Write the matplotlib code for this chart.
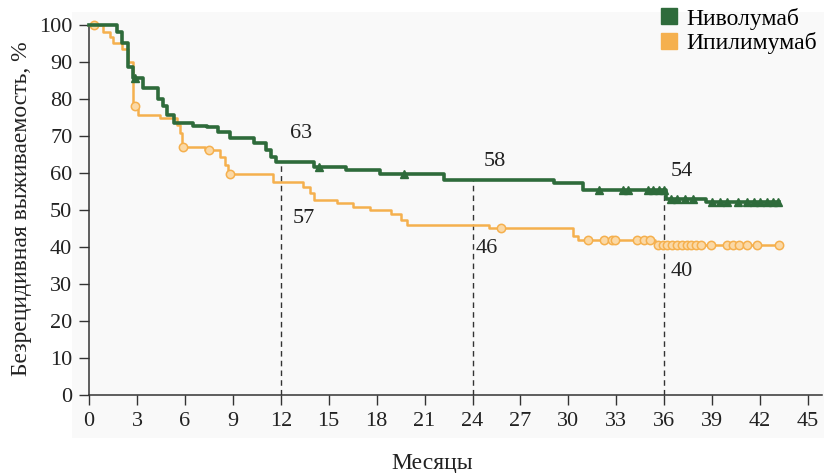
import numpy as np
import matplotlib
matplotlib.use("Agg")
import matplotlib.pyplot as plt
from matplotlib.lines import Line2D
from matplotlib.patches import Rectangle

# ---- data ----
nivo_t = [0, 1.75, 2.05, 2.45, 2.75, 3.4, 4.3, 4.6, 4.9, 5.3, 5.7, 6.5, 7.4, 8.1, 8.8,
          10.3, 11.1, 11.4, 11.7, 14.1, 16.1, 18.2, 22.2, 29.1, 30.9, 36.1, 38.6, 43.2]
nivo_v = [100, 98, 95, 88.6, 85.7, 83, 80, 78, 75.7, 73.5, 73.5, 72.7, 72.5, 71, 69.4,
          68, 66.2, 64.4, 63, 61.7, 60.8, 59.6, 58.1, 57.2, 55.4, 53, 52.2, 52.2]
nivo_cens = [2.9, 14.4, 19.7, 31.9, 33.4, 33.7, 35.0, 35.3, 35.7, 36.0, 36.4, 36.8,
             37.3, 37.8, 39.0, 39.5, 39.9, 40.6, 41.2, 41.6, 42.0, 42.4, 42.8, 43.1]

ipi_t = [0, 0.9, 1.3, 1.5, 2.05, 2.45, 2.75, 3.05, 4.45, 5.5, 5.7, 5.8, 7.25, 8.2, 8.5,
         8.7, 11.5, 13.4, 13.8, 14.1, 15.5, 16.5, 17.6, 18.9, 19.5, 19.9, 25.0, 30.3,
         30.6, 35.4, 43.3]
ipi_v = [100, 98, 96.8, 95, 93.5, 90, 78, 75.7, 74.8, 73, 70.7, 67, 66.2, 64.4, 62.2,
         59.8, 57.6, 56.2, 54.5, 52.7, 51.8, 50.9, 50, 48.8, 47.3, 46, 45, 43, 42,
         40.5, 40.5]
ipi_cens = [0.3, 2.9, 5.9, 7.5, 8.8, 25.8, 31.2, 32.2, 32.7, 32.9, 34.3, 34.7, 35.1,
            35.6, 35.9, 36.2, 36.5, 36.8, 37.1, 37.4, 37.7, 38.0, 38.3, 38.9, 39.9,
            40.3, 40.7, 41.2, 41.8, 43.2]

landmarks = [12, 24, 36]
nivo_labels = ["63", "58", "54"]
ipi_labels = ["57", "46", "40"]
nivo_label_pos = [(13.3, 70.8), (25.4, 63.0), (37.1, 60.3)]
ipi_label_pos = [(13.45, 47.8), (24.9, 39.7), (37.1, 33.5)]

xticks = list(range(0, 46, 3))
yticks = list(range(0, 101, 10))
series_names = ["Ниволумаб", "Ипилимумаб"]

GREEN = "#2e6b3b"
ORANGE = "#f5b04e"


def step_val(ts, vs, x):
    i = np.searchsorted(ts, x, side="right") - 1
    return np.asarray(vs)[np.clip(i, 0, len(vs) - 1)]


plt.rcParams["font.family"] = ["Liberation Serif", "DejaVu Serif"]
FS = 16
FS_LAB = 17

W, H = 824, 473
fig = plt.figure(figsize=(W / 100, H / 100), dpi=100)
fig.patch.set_facecolor("white")
fig.patches.append(Rectangle((72 / W, 1 - 438 / H), (W - 72) / W, (438 - 12) / H,
                             transform=fig.transFigure, facecolor="#f9f9f9",
                             edgecolor="none", zorder=-10))

ax = fig.add_axes([89 / W, 1 - 395 / H, (822 - 89) / W, (395 - 25) / H])
ax.set_zorder(1)
ax.set_facecolor("none")
ax.set_xlim(0, (822 - 89) / 15.98)
ax.set_ylim(0, 100)

# dashed landmark lines
for t in landmarks:
    top = step_val(nivo_t, nivo_v, t)
    ax.plot([t, t], [0, top], color="#333333", lw=1.0, ls=(0, (4, 3)), zorder=2)

ax.step(ipi_t, ipi_v, where="post", color=ORANGE, lw=1.8, zorder=3, clip_on=False)
ax.plot(ipi_cens, step_val(ipi_t, ipi_v, ipi_cens), ls="none", marker="o", ms=6,
        mfc="#fbd9a6", mec=ORANGE, mew=1.1, zorder=4, clip_on=False)

ax.step(nivo_t, nivo_v, where="post", color=GREEN, lw=2.6, zorder=5, clip_on=False)
ax.plot(nivo_cens, step_val(nivo_t, nivo_v, nivo_cens), ls="none", marker="^", ms=6,
        mfc=GREEN, mec=GREEN, zorder=6, clip_on=False)

for lab, (x, y) in zip(nivo_labels, nivo_label_pos):
    ax.text(x, y, lab, ha="center", va="center", fontsize=FS, color="#222222")
for lab, (x, y) in zip(ipi_labels, ipi_label_pos):
    ax.text(x, y, lab, ha="center", va="center", fontsize=FS, color="#222222")

ax.set_xticks(xticks)
ax.set_yticks(yticks)
ax.tick_params(direction="out", length=7, width=1, colors="#333333",
               labelsize=FS, labelcolor="#222222", pad=5)
for s in ["top", "right"]:
    ax.spines[s].set_visible(False)
for s in ["left", "bottom"]:
    ax.spines[s].set_color("#333333")
    ax.spines[s].set_linewidth(1.1)

fig.text(22 / W, 1 - 209 / H, "Безрецидивная выживаемость, %", rotation=90,
         ha="center", va="center", fontsize=FS_LAB, color="#222222")
fig.text(432 / W, 1 - 463 / H, "Месяцы", ha="center", va="center",
         fontsize=FS_LAB, color="#222222")

handles = [Line2D([], [], ls="none", marker="s", ms=12, mfc=GREEN, mec=GREEN),
           Line2D([], [], ls="none", marker="s", ms=12, mfc=ORANGE, mec=ORANGE)]
fig.legend(handles, series_names, loc="upper left",
           bbox_to_anchor=(652 / W, 1 - 3 / H), frameon=False, fontsize=FS_LAB,
           handlelength=1.0, handletextpad=0.25, labelspacing=0.1,
           borderpad=0.2, borderaxespad=0)

fig.savefig("out.png", dpi=100, facecolor="white")
